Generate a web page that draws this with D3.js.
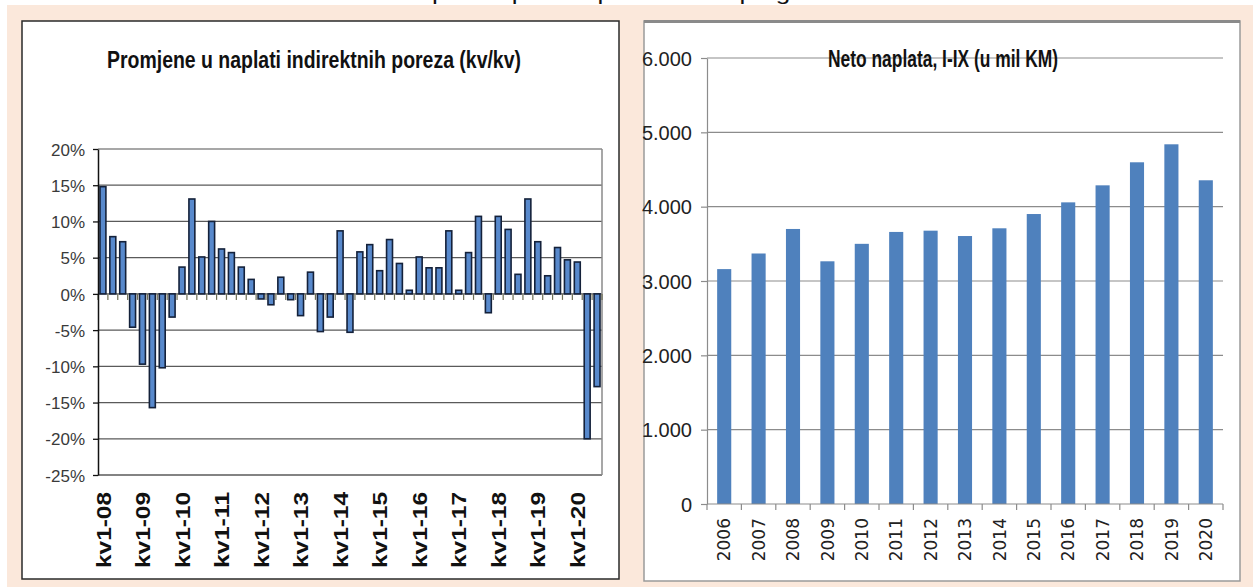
<!DOCTYPE html>
<html>
<head>
<meta charset="utf-8">
<script src="https://cdn.jsdelivr.net/npm/d3@7"></script>
<style>
  body { margin: 0; background: #fff; }
  svg { display: block; }
</style>
</head>
<body>
<div id="container"></div>
<script>
// left chart: quarterly change, %
let quarters = [
  "kv1-08","kv2-08","kv3-08","kv4-08","kv1-09","kv2-09","kv3-09","kv4-09",
  "kv1-10","kv2-10","kv3-10","kv4-10","kv1-11","kv2-11","kv3-11","kv4-11",
  "kv1-12","kv2-12","kv3-12","kv4-12","kv1-13","kv2-13","kv3-13","kv4-13",
  "kv1-14","kv2-14","kv3-14","kv4-14","kv1-15","kv2-15","kv3-15","kv4-15",
  "kv1-16","kv2-16","kv3-16","kv4-16","kv1-17","kv2-17","kv3-17","kv4-17",
  "kv1-18","kv2-18","kv3-18","kv4-18","kv1-19","kv2-19","kv3-19","kv4-19",
  "kv1-20","kv2-20","kv3-20"
];
let changes = [
  14.8, 7.9, 7.2, -4.6, -9.7, -15.7, -10.2, -3.2,
  3.7, 13.1, 5.1, 10.0, 6.2, 5.7, 3.7, 2.0,
  -0.7, -1.5, 2.3, -0.8, -3.0, 3.0, -5.2, -3.2,
  8.7, -5.3, 5.8, 6.8, 3.2, 7.5, 4.2, 0.5,
  5.1, 3.6, 3.6, 8.7, 0.5, 5.7, 10.7, -2.6,
  10.7, 8.9, 2.7, 13.1, 7.2, 2.5, 6.4, 4.7,
  4.4, -20.0, -12.8
];
let pctTicks = [-25, -20, -15, -10, -5, 0, 5, 10, 15, 20];

// right chart: net collection, mil KM
let years = ["2006","2007","2008","2009","2010","2011","2012","2013","2014","2015","2016","2017","2018","2019","2020"];
let netto = [3160, 3370, 3700, 3265, 3500, 3660, 3677, 3605, 3709, 3901, 4058, 4287, 4597, 4839, 4355];
let kmTicks = [0, 1000, 2000, 3000, 4000, 5000, 6000];

let W = 1253, H = 587;
let svg = d3.select("#container").append("svg")
    .attr("width", W)
    .attr("height", H);

// page heading, cut off at the top edge like in the source picture
svg.append("text")
    .attr("x", 638).attr("y", 0)
    .attr("text-anchor", "middle")
    .attr("font-family", "Liberation Sans, Arial, sans-serif")
    .attr("font-size", 20)
    .attr("textLength", 505)
    .attr("lengthAdjust", "spacingAndGlyphs")
    .attr("fill", "#111")
    .text("Ukupna naplata u periodu I-IX po godinama");

// peach background + two white panels
svg.append("rect").attr("x", 7).attr("y", 5).attr("width", W - 7).attr("height", H - 5).attr("fill", "#fbe8db");
svg.append("rect").attr("x", 22).attr("y", 21).attr("width", 597).attr("height", 558)
    .attr("fill", "#fff").attr("stroke", "#2a2a2a").attr("stroke-width", 1.5);
svg.append("rect").attr("x", 644).attr("y", 21).attr("width", 596).attr("height", 560)
    .attr("fill", "#fff").attr("stroke", "#9a9a9a").attr("stroke-width", 1.5);
svg.append("line").attr("x1", 644).attr("x2", 1240).attr("y1", 21.5).attr("y2", 21.5)
    .attr("stroke", "#8a8a8a").attr("stroke-width", 3);

// ---------------- left chart ----------------
let L = {left: 98, right: 602, top: 149, bottom: 475};

let xL = d3.scaleBand()
    .domain(quarters)
    .range([L.left, L.right])
    .paddingInner(0.4)
    .paddingOuter(0.2);

let yL = d3.scaleLinear()
    .domain([-25, 20])
    .range([L.bottom, L.top]);

let left = svg.append("g").attr("font-family", "Liberation Sans, Arial, sans-serif");

left.append("text")
    .attr("x", 314).attr("y", 68)
    .attr("text-anchor", "middle")
    .attr("font-size", 23)
    .attr("font-weight", "bold")
    .attr("textLength", 414)
    .attr("lengthAdjust", "spacingAndGlyphs")
    .attr("fill", "#111")
    .text("Promjene u naplati indirektnih poreza (kv/kv)");

// gridlines
left.selectAll(".gridL").data(pctTicks)
  .enter().append("line")
    .attr("class", "gridL")
    .attr("x1", L.left).attr("x2", L.right)
    .attr("y1", d => yL(d)).attr("y2", d => yL(d))
    .attr("stroke", d => d == 20 ? "#8a8a8a" : "#5a5a5a")
    .attr("stroke-width", 1.3);

left.append("line")
    .attr("x1", L.right).attr("x2", L.right)
    .attr("y1", L.top).attr("y2", L.bottom)
    .attr("stroke", "#8a8a8a").attr("stroke-width", 1.5);

// small category ticks under the zero line
let stepL = xL.step();
left.selectAll(".tickL").data(d3.range(quarters.length + 1))
  .enter().append("line")
    .attr("x1", i => L.left + i * stepL).attr("x2", i => L.left + i * stepL)
    .attr("y1", yL(0)).attr("y2", yL(0) + 6)
    .attr("stroke", "#6e6e55").attr("stroke-width", 1.2);

// bars
left.selectAll(".barL").data(changes)
  .enter().append("rect")
    .attr("class", "barL")
    .attr("x", (d, i) => xL(quarters[i]))
    .attr("width", xL.bandwidth())
    .attr("y", d => yL(Math.max(0, d)))
    .attr("height", d => Math.abs(yL(d) - yL(0)))
    .attr("fill", "#5889cc")
    .attr("stroke", "#14213a")
    .attr("stroke-width", 1.6);

// y axis
let yAxisL = left.append("g")
    .attr("transform", "translate(" + L.left + ",0)")
    .call(d3.axisLeft(yL).tickValues(pctTicks).tickFormat(d => d + "%").tickSize(5).tickSizeOuter(0));
yAxisL.select(".domain").attr("stroke", "#111").attr("stroke-width", 1.5);
yAxisL.selectAll(".tick line").attr("stroke", "#111").attr("stroke-width", 1.3);
yAxisL.selectAll(".tick text")
    .attr("font-size", 17)
    .attr("fill", "#3a3a3a")
    .attr("x", -13)
    .attr("dy", "0.36em");

// x labels (only first quarter of each year)
let xAxisL = left.append("g")
    .attr("transform", "translate(0," + L.bottom + ")")
    .call(d3.axisBottom(xL).tickValues(quarters.filter(q => q.startsWith("kv1"))).tickSize(0));
xAxisL.select(".domain").remove();
xAxisL.selectAll(".tick text")
    .attr("transform", "rotate(-90)")
    .attr("text-anchor", "end")
    .attr("x", -17)
    .attr("y", 0)
    .attr("dy", "0.36em")
    .attr("font-size", 21)
    .attr("font-weight", "bold")
    .attr("textLength", 76)
    .attr("lengthAdjust", "spacingAndGlyphs")
    .attr("fill", "#111");

// ---------------- right chart ----------------
let R = {left: 707, right: 1223, top: 58, bottom: 504};

let xR = d3.scaleBand()
    .domain(years)
    .range([R.left, R.right])
    .paddingInner(0.59)
    .paddingOuter(0.295);

let yR = d3.scaleLinear()
    .domain([0, 6000])
    .range([R.bottom, R.top]);

let right = svg.append("g").attr("font-family", "Liberation Sans Narrow, Arial Narrow, Liberation Sans, sans-serif");

right.selectAll(".gridR").data(kmTicks.filter(d => d > 0))
  .enter().append("line")
    .attr("class", "gridR")
    .attr("x1", R.left).attr("x2", R.right)
    .attr("y1", d => yR(d)).attr("y2", d => yR(d))
    .attr("stroke", "#8c8c8c")
    .attr("stroke-width", 1.2);

right.selectAll(".barR").data(netto)
  .enter().append("rect")
    .attr("class", "barR")
    .attr("x", (d, i) => xR(years[i]))
    .attr("width", xR.bandwidth())
    .attr("y", d => yR(d))
    .attr("height", d => yR(0) - yR(d))
    .attr("fill", "#4f81bd");

right.append("text")
    .attr("x", 943).attr("y", 67)
    .attr("text-anchor", "middle")
    .attr("font-size", 23)
    .attr("font-weight", "bold")
    .attr("textLength", 230)
    .attr("lengthAdjust", "spacingAndGlyphs")
    .attr("fill", "#111")
    .text("Neto naplata, I-IX (u mil KM)");

let yAxisR = right.append("g")
    .attr("transform", "translate(" + R.left + ",0)")
    .call(d3.axisLeft(yR).tickValues(kmTicks)
        .tickFormat(d => d == 0 ? "0" : d3.format(",")(d).replace(",", "."))
        .tickSize(6).tickSizeOuter(0));
yAxisR.select(".domain").attr("stroke", "#8c8c8c").attr("stroke-width", 1.2);
yAxisR.selectAll(".tick line").attr("stroke", "#8c8c8c").attr("stroke-width", 1.2);
yAxisR.selectAll(".tick text")
    .attr("font-size", 20)
    .attr("fill", "#222")
    .attr("x", -15)
    .attr("dy", "0.36em");

// x axis line and category ticks
right.append("line")
    .attr("x1", R.left).attr("x2", R.right)
    .attr("y1", R.bottom).attr("y2", R.bottom)
    .attr("stroke", "#8c8c8c").attr("stroke-width", 1.2);
let stepR = xR.step();
right.selectAll(".tickR").data(d3.range(years.length + 1))
  .enter().append("line")
    .attr("x1", i => R.left + i * stepR).attr("x2", i => R.left + i * stepR)
    .attr("y1", R.bottom).attr("y2", R.bottom + 6)
    .attr("stroke", "#8c8c8c").attr("stroke-width", 1.2);

let xAxisR = right.append("g")
    .attr("transform", "translate(0," + R.bottom + ")")
    .call(d3.axisBottom(xR).tickSize(0));
xAxisR.select(".domain").remove();
xAxisR.selectAll(".tick text")
    .attr("transform", "rotate(-90)")
    .attr("text-anchor", "end")
    .attr("x", -14)
    .attr("y", 0)
    .attr("dy", "0.36em")
    .attr("font-family", "DejaVu Sans, sans-serif")
    .attr("font-size", 17)
    .attr("fill", "#222");
</script>
</body>
</html>
